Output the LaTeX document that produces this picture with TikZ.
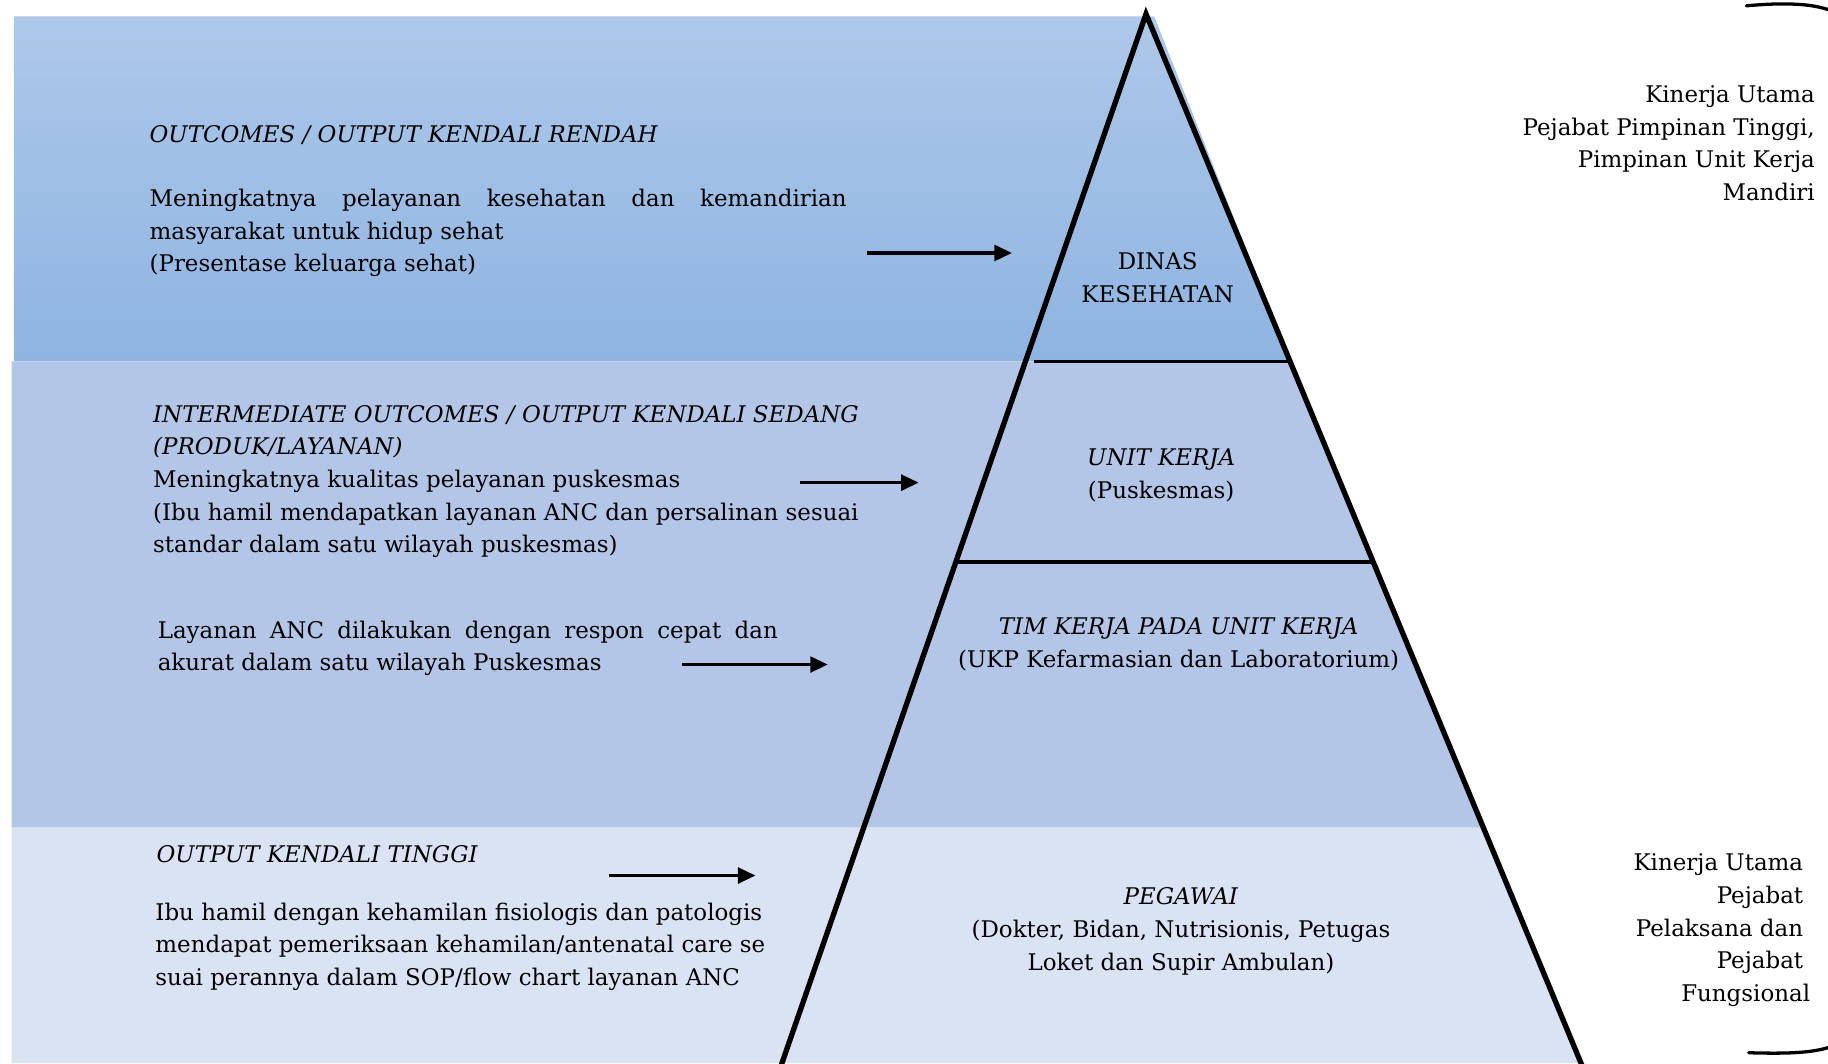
\documentclass[tikz,border=0pt]{standalone}
\usepackage{fontspec}
\setmainfont{DejaVu Serif}
\usepackage{tikz}
\usetikzlibrary{arrows.meta}

\definecolor{bandtopA}{RGB}{174,200,233}
\definecolor{bandtopB}{RGB}{142,180,226}
\definecolor{bandmid}{RGB}{180,198,231}
\definecolor{bandlow}{RGB}{218,227,243}

\begin{document}
\begin{tikzpicture}[x=0.02cm, y=-0.02cm, font=\fontsize{11.2}{15.94}\selectfont,
	txt/.style={inner sep=0pt, anchor=west, align=left},
	lvl/.style={inner sep=0pt, align=center},
	side/.style={inner sep=0pt, anchor=east, align=right},
	arr/.style={line width=1.6pt, -{Triangle[length=0.3cm, width=0.27cm]}},
	edge/.style={line width=2.6pt, line join=miter},
	cut/.style={line width=1.7pt},
	brace/.style={line width=1.6pt, line cap=round}]
	\useasboundingbox (0, 0) rectangle (1568, 912);
	
	% bands
	\shade [top color=bandtopA, bottom color=bandtopB] (12, 14) -- (990, 14) -- (1107, 310) -- (12, 310) -- cycle;
	\fill [bandmid] (10, 310) -- (1107, 310) -- (1273, 710) -- (10, 710) -- cycle;
	\fill [bandlow] (10, 710) -- (1273, 710) -- (1357, 912) -- (10, 912) -- cycle;
	
	% pyramid
	\coordinate (apex) at (983, 12);
	\coordinate (bl) at (670, 914);
	\coordinate (br) at (1357, 914);
	\coordinate (c1l) at (887, 310);
	\coordinate (c1r) at (1107, 310);
	\coordinate (c2l) at (820, 482);
	\coordinate (c2r) at (1178, 482);
	\draw [edge] (bl) -- (apex) -- (br);
	\draw [cut] (c1l) to (c1r);
	\draw [cut] (c2l) to (c2r);
	
	\node [lvl] (dinas) at (993, 238) {DINAS\\KESEHATAN};
	\node [lvl] (unit) at (996, 408) {\textit{UNIT KERJA}\\(Puskesmas)};
	\node [lvl] (tim) at (1011, 553) {\textit{TIM KERJA PADA UNIT KERJA}\\(UKP Kefarmasian dan Laboratorium)};
	\node [lvl] (pegawai) at (1013, 799) {\textit{PEGAWAI}\\(Dokter, Bidan, Nutrisionis, Petugas\\Loket dan Supir Ambulan)};
	
	% left texts
	\node [txt] (t1) at (128, 116) {\textit{OUTCOMES / OUTPUT KENDALI RENDAH}};
	\node [txt] (p1) at (128, 200) {\makebox[11.96cm][s]{Meningkatnya pelayanan kesehatan dan kemandirian}\\masyarakat untuk hidup sehat\\(Presentase keluarga sehat)};
	
	\node [txt] (p2) at (131, 413) {\textit{INTERMEDIATE OUTCOMES / OUTPUT KENDALI SEDANG}\\\textit{(PRODUK/LAYANAN)}\\Meningkatnya kualitas pelayanan puskesmas\\(Ibu hamil mendapatkan layanan ANC dan persalinan sesuai\\standar dalam satu wilayah puskesmas)};
	
	\node [txt] (p3) at (135, 556) {\makebox[10.64cm][s]{Layanan ANC dilakukan dengan respon cepat dan}\\akurat dalam satu wilayah Puskesmas};
	
	\node [txt] (t4) at (134, 733) {\textit{OUTPUT KENDALI TINGGI}};
	\node [txt] (p4) at (133, 812) {Ibu hamil dengan kehamilan fisiologis dan patologis\\mendapat pemeriksaan kehamilan/antenatal care se\\suai perannya dalam SOP/flow chart layanan ANC};
	
	% arrows
	\coordinate (a1) at (744, 217);
	\coordinate (b1) at (868, 217);
	\coordinate (a2) at (686, 414);
	\coordinate (b2) at (788, 414);
	\coordinate (a3) at (585, 570);
	\coordinate (b3) at (710, 570);
	\coordinate (a4) at (522, 751);
	\coordinate (b4) at (648, 751);
	\draw [arr] (a1) to (b1);
	\draw [arr] (a2) to (b2);
	\draw [arr] (a3) to (b3);
	\draw [arr] (a4) to (b4);
	
	% right side
	\node [side] (high) at (1557, 123) {Kinerja Utama\\Pejabat Pimpinan Tinggi,\\Pimpinan Unit Kerja\\Mandiri};
	\node [side] (low) at (1547, 798) {Kinerja Utama\\Pejabat\\Pelaksana dan\\Pejabat\\Fungsional\hspace*{-0.12cm}};
	
	\coordinate (u1) at (1498, 5);
	\coordinate (u2) at (1570, 9);
	\coordinate (d1) at (1500, 903);
	\coordinate (d2) at (1570, 898);
	\draw [brace] (u1) .. controls (1530, 2) and (1555, 3) .. (u2);
	\draw [brace] (d1) .. controls (1535, 904) and (1555, 903) .. (d2);
	
\end{tikzpicture}
\end{document}
